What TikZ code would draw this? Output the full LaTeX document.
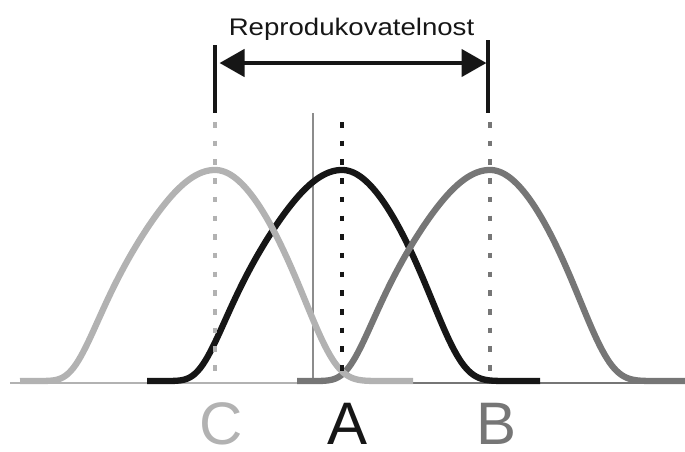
\documentclass[tikz,border=0pt]{standalone}
\usepackage{fontspec}
\setmainfont{Liberation Sans}
\usetikzlibrary{arrows.meta}
\definecolor{cLight}{RGB}{178,178,178}
\definecolor{cDark}{RGB}{118,118,118}
\definecolor{cBlack}{RGB}{22,22,22}
\definecolor{cThin}{RGB}{140,140,140}
\newcommand{\bellcurve}[4]{%
  \draw[#4] (#2,381)
    -- plot[domain=175:0, samples=70] ({#1-\x},{381-211*exp(-(\x/120)^2-(\x/136)^8)})
    -- plot[domain=0:165, samples=70] ({#1+\x},{381-211*exp(-(\x/103)^2-(\x/118)^6)})
    -- (#3,381);
}
\tikzset{
  curve/.style={line width=6.3pt, line join=round},
  baseln/.style={line width=2.8pt},
  dashv/.style={line width=4.5pt, dash pattern=on 5.5pt off 13.2pt},
  barline/.style={line width=4pt, cBlack},
  span/.style={line width=4.5pt, cBlack, {Triangle[length=25pt,width=27pt]}-{Triangle[length=25pt,width=27pt]}},
  letter/.style={anchor=base, inner sep=0pt, font=\fontsize{60}{70}\selectfont},
  title/.style={anchor=base, inner sep=0pt, font=\fontsize{24}{28}\selectfont, text=cBlack}
}
\begin{document}
\begin{tikzpicture}[x=1pt,y=-1pt]
\useasboundingbox (0,0) rectangle (685,451);
% thin base lines
\draw[baseln, cLight] (10,383) -- (300,383);
\draw[baseln, cDark] (413,383) -- (685,383);
% thin vertical line
\draw[cThin, line width=1.5pt] (313,113) -- (313,378);
% bell curves
\bellcurve{342}{147}{540}{curve, cBlack}
\bellcurve{490}{297}{685}{curve, cDark}
\bellcurve{215}{20}{413}{curve, cLight}
% dashed verticals
\draw[dashv, cLight] (215,122) -- (215,375);
\draw[dashv, cBlack] (342,122) -- (342,375);
\draw[dashv, cDark] (490,122) -- (490,375);
% reproducibility bracket
\coordinate (Ltop) at (215,45);
\coordinate (Lbot) at (215,113);
\coordinate (Rtop) at (488,40);
\coordinate (Rbot) at (488,113);
\coordinate (Lend) at (219.5,63);
\coordinate (Rend) at (486.5,63);
\draw[barline] (Ltop) -- (Lbot);
\draw[barline] (Rtop) -- (Rbot);
\draw[span] (Lend) -- (Rend);
\node[title] (tit) at (351.5,35) {\scalebox{1.15}[1]{Reprodukovatelnost}};
% labels
\node[letter, text=cLight] (labC) at (221,444) {C};
\node[letter, text=cBlack] (labA) at (347.5,444) {A};
\node[letter, text=cDark] (labB) at (496.5,444) {B};
\end{tikzpicture}
\end{document}
